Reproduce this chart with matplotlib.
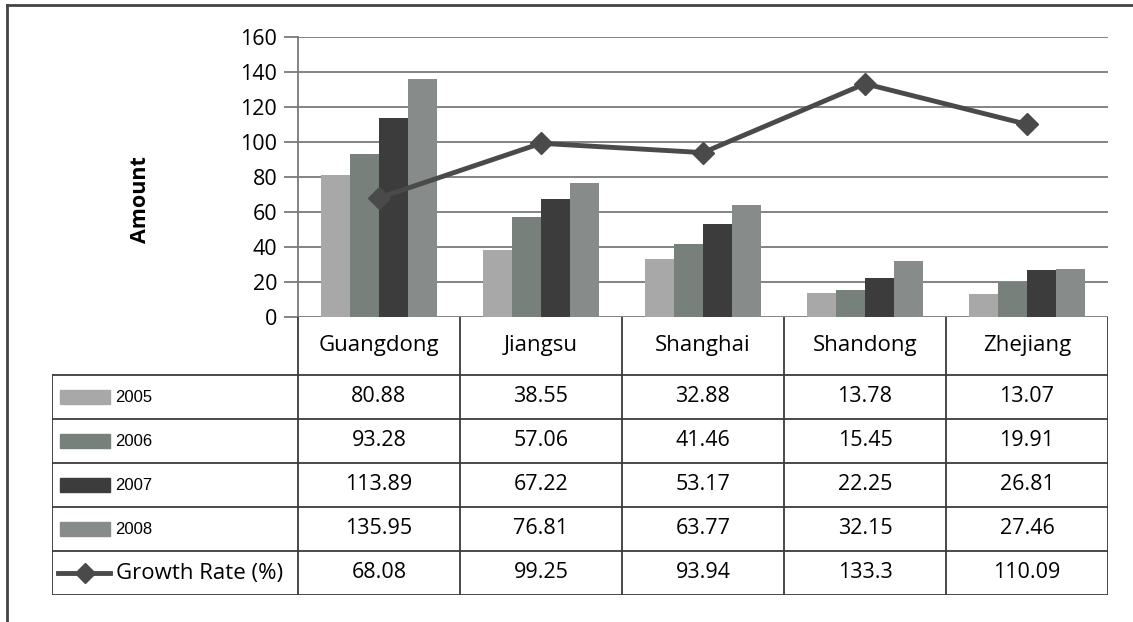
import matplotlib.pyplot as plt
import matplotlib.patches as mpatches
from matplotlib.lines import Line2D
import numpy as np

plt.rcParams['font.family'] = ['Open Sans', 'DejaVu Sans']

provinces = ['Guangdong', 'Jiangsu', 'Shanghai', 'Shandong', 'Zhejiang']
years = ['2005', '2006', '2007', '2008']
amount_2005 = [80.88, 38.55, 32.88, 13.78, 13.07]
amount_2006 = [93.28, 57.06, 41.46, 15.45, 19.91]
amount_2007 = [113.89, 67.22, 53.17, 22.25, 26.81]
amount_2008 = [135.95, 76.81, 63.77, 32.15, 27.46]
growth_rate = [68.08, 99.25, 93.94, 133.3, 110.09]
growth_label = 'Growth Rate (%)'

series = [amount_2005, amount_2006, amount_2007, amount_2008]
colors = ['#a8a8a8', '#78807b', '#3c3c3c', '#878c8a']
line_color = '#4a4a4a'

W, H = 1133, 622
fig = plt.figure(figsize=(W / 100, H / 100), dpi=100)

def box(l, t, r, b):
    return [l / W, 1 - b / H, (r - l) / W, (b - t) / H]

# chart area
ax = fig.add_axes(box(298, 37, 1108, 317))
x = np.arange(len(provinces))
bw = 0.18
for i, vals in enumerate(series):
    ax.bar(x + (i - 1.5) * bw, vals, bw, color=colors[i], zorder=2)
ax.plot(x, growth_rate, color=line_color, lw=3.5, marker='D', ms=11, zorder=3)
ax.set_xlim(-0.5, len(provinces) - 0.5)
ax.set_ylim(0, 160)
ax.set_yticks(range(0, 161, 20))
ax.set_xticks([])
ax.grid(axis='y', color='#7a7a7a', lw=1.3, zorder=0)
for s in ['top', 'right', 'bottom']:
    ax.spines[s].set_visible(False)
ax.spines['left'].set_color('#7a7a7a')
ax.spines['left'].set_linewidth(1.3)
ax.tick_params(axis='y', length=10, width=1.3, color='#7a7a7a', labelsize=15.5, pad=5)
fig.text(140 / W, 1 - 200 / H, 'Amount', rotation=90, ha='center', va='center',
         fontsize=15.5, fontweight='bold')

# data table below the chart
tx = fig.add_axes(box(52, 317, 1108, 595))
left = -0.5 - (298 - 52) / 162
tx.set_xlim(left, len(provinces) - 0.5)
hdr = (375 - 317) / 44
tx.set_ylim(5, -hdr)
tx.axis('off')
lc = '#3a3a3a'
for j in range(len(provinces) + 1):
    tx.plot([j - 0.5, j - 0.5], [-hdr, 5], color=lc, lw=1.3)
tx.plot([left, left], [0, 5], color=lc, lw=1.3)
for r in range(6):
    tx.plot([left, len(provinces) - 0.5], [r, r], color=lc, lw=1.3)
for j, p in enumerate(provinces):
    tx.text(j, -hdr / 2, p, ha='center', va='center', fontsize=16)

rows = series + [growth_rate]
for r, vals in enumerate(rows):
    for j, v in enumerate(vals):
        tx.text(j, r + 0.5, f'{v:g}' if r == 4 else f'{v:.2f}',
                ha='center', va='center', fontsize=15.5)

u = lambda px: -0.5 + (px - 298) / 162
for r, yr in enumerate(years):
    tx.add_patch(mpatches.Rectangle((u(60), r + 0.5 - 0.15), u(110) - u(60), 0.3,
                                    color=colors[r]))
    tx.text(u(115), r + 0.5, yr, ha='left', va='center', fontsize=12,
            family=['Liberation Sans'])
tx.plot([u(58), u(110)], [4.5, 4.5], color=line_color, lw=3.5)
tx.plot([u(85)], [4.5], marker='D', ms=10, color=line_color)
tx.text(u(116), 4.5, growth_label, ha='left', va='center', fontsize=16)

# outer border
fig.add_artist(Line2D([7 / W, 7 / W], [0, 1 - 5 / H], color='#444444', lw=2))
fig.add_artist(Line2D([7 / W, 1], [1 - 5 / H, 1 - 5 / H], color='#444444', lw=2))

fig.savefig('out.png', dpi=100)
